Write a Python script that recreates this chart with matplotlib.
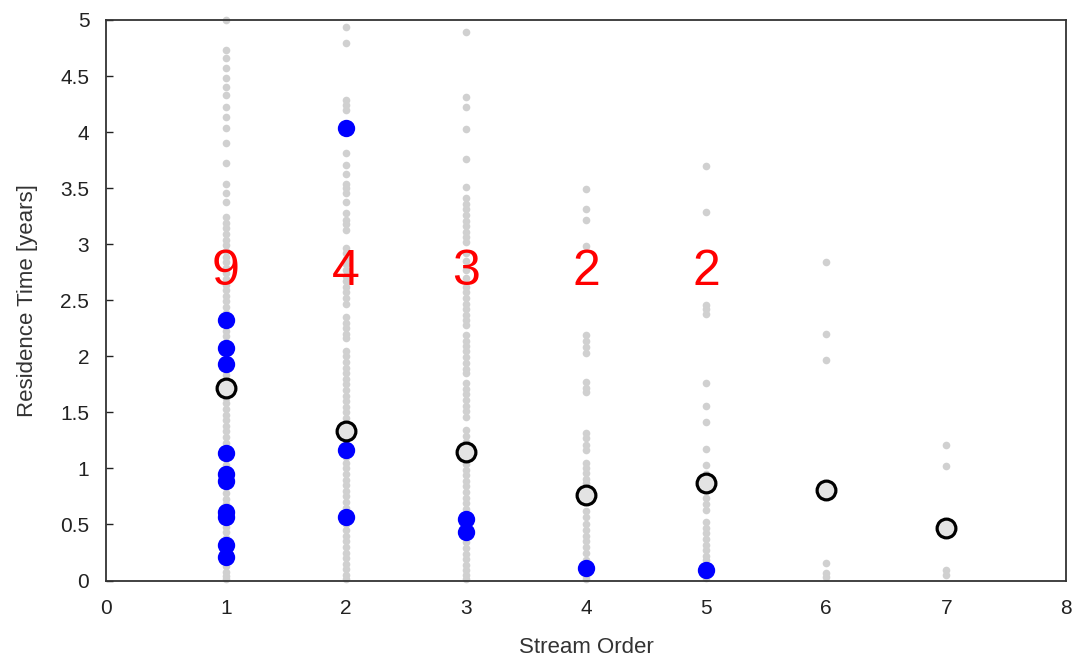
import numpy as np
import matplotlib.pyplot as plt

plt.rcParams['font.family'] = ['Liberation Sans', 'DejaVu Sans']

# all residence times per stream order (gray)
rt_order1 = [5.0, 4.73, 4.66, 4.57, 4.48, 4.40, 4.33, 4.22, 4.13, 4.04, 3.90, 3.72, 3.54, 3.46, 3.38,
             3.24, 3.19, 3.14, 3.09, 3.04, 2.99, 2.94, 2.89, 2.84, 2.79, 2.74, 2.69, 2.64, 2.59, 2.54,
             2.49, 2.44, 2.39, 2.34, 2.28, 2.23, 2.18, 2.13, 2.08, 2.03, 1.98, 1.93, 1.88, 1.83, 1.78,
             1.73, 1.68, 1.63, 1.58, 1.53, 1.48, 1.43, 1.38, 1.33, 1.28, 1.23, 1.18, 1.13, 1.08, 1.03,
             0.98, 0.93, 0.88, 0.83, 0.78, 0.73, 0.68, 0.63, 0.58, 0.53, 0.48, 0.43, 0.38, 0.33, 0.28,
             0.23, 0.18, 0.13, 0.08, 0.04, 0.01]
rt_order2 = [4.94, 4.79, 4.29, 4.24, 4.20, 3.81, 3.71, 3.63, 3.54, 3.50, 3.46, 3.38, 3.28, 3.22, 3.18,
             3.13, 2.97, 2.92, 2.87, 2.82, 2.77, 2.72, 2.67, 2.62, 2.57, 2.52, 2.47, 2.35, 2.30, 2.25,
             2.20, 2.16, 2.05, 2.00, 1.95, 1.90, 1.85, 1.80, 1.75, 1.70, 1.65, 1.60, 1.55, 1.50, 1.45,
             1.40, 1.35, 1.30, 1.25, 1.20, 1.15, 1.10, 1.05, 1.00, 0.95, 0.90, 0.85, 0.80, 0.75, 0.70,
             0.65, 0.60, 0.55, 0.50, 0.45, 0.40, 0.35, 0.30, 0.25, 0.20, 0.15, 0.10, 0.05, 0.01]
rt_order3 = [4.89, 4.31, 4.22, 4.03, 3.76, 3.51, 3.41, 3.36, 3.31, 3.26, 3.21, 3.16, 3.11, 3.06, 3.02,
             2.92, 2.85, 2.77, 2.70, 2.62, 2.57, 2.52, 2.47, 2.42, 2.37, 2.32, 2.28, 2.19, 2.14, 2.09,
             2.05, 1.99, 1.94, 1.89, 1.85, 1.76, 1.71, 1.66, 1.61, 1.56, 1.51, 1.46, 1.34, 1.29, 1.24,
             1.19, 1.14, 1.09, 1.04, 0.99, 0.94, 0.89, 0.84, 0.79, 0.74, 0.69, 0.64, 0.59, 0.54, 0.49,
             0.44, 0.39, 0.34, 0.29, 0.24, 0.19, 0.14, 0.09, 0.05, 0.01]
rt_order4 = [3.49, 3.31, 3.22, 2.98, 2.19, 2.14, 2.08, 2.03, 1.77, 1.72, 1.68, 1.32, 1.27, 1.21, 1.16,
             1.05, 1.00, 0.96, 0.91, 0.87, 0.80, 0.72, 0.62, 0.57, 0.50, 0.45, 0.40, 0.35, 0.30, 0.25,
             0.18, 0.13, 0.08, 0.04, 0.01]
rt_order5 = [3.70, 3.29, 2.46, 2.42, 2.38, 1.76, 1.56, 1.41, 1.17, 1.03, 0.95, 0.74, 0.68, 0.63, 0.52,
             0.47, 0.42, 0.37, 0.32, 0.27, 0.22, 0.18, 0.13, 0.06, 0.02]
rt_order6 = [2.84, 2.20, 1.97, 0.16, 0.07, 0.03]
rt_order7 = [1.21, 1.02, 0.09, 0.05]
rt_all = [rt_order1, rt_order2, rt_order3, rt_order4, rt_order5, rt_order6, rt_order7]

# sampled sites (blue)
sampled_order = [1, 1, 1, 1, 1, 1, 1, 1, 1, 1, 2, 2, 2, 3, 3, 4, 5]
sampled_rt = [2.32, 2.07, 1.93, 1.14, 0.95, 0.89, 0.61, 0.57, 0.32, 0.21,
              4.04, 1.16, 0.57, 0.55, 0.43, 0.11, 0.09]

# mean residence time per order
orders = [1, 2, 3, 4, 5, 6, 7]
mean_rt = [1.72, 1.33, 1.15, 0.76, 0.87, 0.81, 0.47]

# number of samples per order
count_orders = [1, 2, 3, 4, 5]
counts = ['9', '4', '3', '2', '2']
count_y = 2.75

fig = plt.figure(figsize=(10.76, 6.65), dpi=100)
ax = fig.add_axes([0.0985, 0.127, 0.8925, 0.843])

for o, vals in zip(orders, rt_all):
    ax.plot([o] * len(vals), vals, 'o', color='#d0d0d0', markersize=5.5,
            markeredgewidth=0, clip_on=False, zorder=2)

ax.plot(sampled_order, sampled_rt, 'o', color='#0000ff', markersize=12.5,
        markeredgewidth=0, zorder=3)
ax.plot(orders, mean_rt, 'o', markerfacecolor='#e3e3e3', markeredgecolor='black',
        markersize=13.5, markeredgewidth=2.3, zorder=4)

for o, c in zip(count_orders, counts):
    ax.text(o, count_y, c, color='red', fontsize=36, ha='center', va='center', zorder=5)

ax.set_xlim(0, 8)
ax.set_ylim(0, 5)
ax.set_xticks(range(0, 9))
ax.set_yticks(np.arange(0, 5.01, 0.5))
ax.set_yticklabels(['0', '0.5', '1', '1.5', '2', '2.5', '3', '3.5', '4', '4.5', '5'])
ax.tick_params(axis='y', direction='in', length=5, width=1, pad=12, labelsize=15, colors='#222222')
ax.tick_params(axis='x', length=0, pad=13, labelsize=15, colors='#222222')
for s in ax.spines.values():
    s.set_color('#333333')
    s.set_linewidth(1.3)

ax.set_xlabel('Stream Order', fontsize=16, color='#333333', labelpad=14)
ax.set_ylabel('Residence Time [years]', fontsize=16, color='#333333', labelpad=16)

fig.savefig('out.png', dpi=100)
